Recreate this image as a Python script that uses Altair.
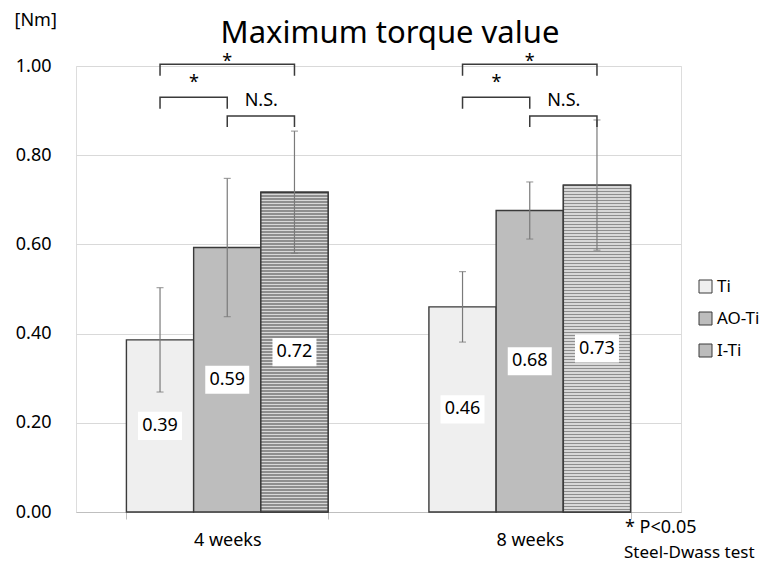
import altair as alt
import pandas as pd

# ---- data ----
weeks = ["4 weeks", "8 weeks"]
groups = ["Ti", "AO-Ti", "I-Ti"]
means_4w = [0.386, 0.593, 0.717]
means_8w = [0.460, 0.676, 0.733]
sd_4w = [0.117, 0.155, 0.137]
sd_8w = [0.079, 0.064, 0.146]

# significance brackets
bracket_from = ["Ti", "Ti", "AO-Ti"]
bracket_to = ["I-Ti", "AO-Ti", "I-Ti"]
bracket_level = [1.004, 0.930, 0.888]
bracket_drop = [0.978, 0.904, 0.863]
bracket_text = ["*", "*", "N.S."]
bracket_text_level = [1.009, 0.962, 0.922]

# ---- tables ----
rows = []
for w, ms, sds in [(weeks[0], means_4w, sd_4w), (weeks[1], means_8w, sd_8w)]:
    for g, m, s in zip(groups, ms, sds):
        rows.append({"week": w, "group": g, "value": m, "lo": m - s, "hi": m + s, "mid": m / 2})
df = pd.DataFrame(rows)

brows = []
trows = []
for w in weeks:
    for i in range(len(bracket_from)):
        pts = [(bracket_from[i], bracket_drop[i]), (bracket_from[i], bracket_level[i]),
               (bracket_to[i], bracket_level[i]), (bracket_to[i], bracket_drop[i])]
        for k, (g, yv) in enumerate(pts):
            brows.append({"week": w, "pos": g, "y": yv, "bid": f"{w}-{i}", "k": k})
    trows.append({"week": w, "pos": "AO-Ti", "y": bracket_text_level[0], "t": bracket_text[0], "shift": "no"})
    trows.append({"week": w, "pos": "Ti", "y": bracket_text_level[1], "t": bracket_text[1], "shift": "yes"})
    trows.append({"week": w, "pos": "AO-Ti", "y": bracket_text_level[2], "t": bracket_text[2], "shift": "yes"})
bdf = pd.DataFrame(brows)
tdf = pd.DataFrame(trows)

FONT = "Noto Sans"
fills = ["#efefef", "#bdbdbd", "#bcbcbc"]
PLOT_H = 446


def stripe_gradient(bar_value, period=3.0):
    """horizontal stripe fill, stripes every `period` px for a bar of given height"""
    h = bar_value * PLOT_H
    stops = []
    pos = 0.0
    while pos < h:
        a = pos / h
        b = min((pos + period * 0.45) / h, 1.0)
        c = min((pos + period) / h, 1.0)
        stops += [
            alt.GradientStop(offset=a, color="#8e8e8e"),
            alt.GradientStop(offset=b, color="#8e8e8e"),
            alt.GradientStop(offset=b, color="#d8d8d8"),
            alt.GradientStop(offset=c, color="#d8d8d8"),
        ]
        pos += period
    return alt.LinearGradient(gradient="linear", stops=stops, x1=0, x2=0, y1=0, y2=1)


xenc = alt.X("week:N", sort=weeks,
             scale=alt.Scale(domain=weeks, paddingInner=1 / 3, paddingOuter=1 / 6),
             axis=alt.Axis(title=None, labelAngle=0, labelFontSize=18, labelFont=FONT,
                           labelColor="#000000", labelPadding=12, tickSize=7,
                           tickColor="#bfbfbf", domainColor="#bfbfbf", tickBand="extent",
                           grid=False))
xoff = alt.XOffset("group:N", sort=groups, scale=alt.Scale(domain=groups))
yscale = alt.Scale(domain=[0, 1], nice=False)
yaxis = alt.Axis(values=[0, 0.2, 0.4, 0.6, 0.8, 1.0], format=".2f", labelFontSize=18,
                 labelFont=FONT, labelColor="#000000", labelPadding=25,
                 domain=False, ticks=False, grid=True, gridColor="#d9d9d9",
                 title="[Nm]", titleAngle=0, titleX=-62, titleY=-46,
                 titleAlign="left", titleBaseline="middle", titleFontSize=18,
                 titleFont=FONT, titleFontWeight="normal", titleColor="#000000")


def Y(field):
    return alt.Y(field, scale=yscale, axis=yaxis)


base = alt.Chart(df)

bars = base.mark_bar(stroke="#3a3a3a", strokeWidth=1.4).encode(
    x=xenc,
    xOffset=xoff,
    y=Y("value:Q"),
    color=alt.Color("group:N", sort=groups,
                    scale=alt.Scale(domain=groups, range=fills),
                    legend=alt.Legend(title=None, orient="none", legendX=621, legendY=212,
                                      symbolType="square", symbolSize=169,
                                      symbolStrokeColor="#3a3a3a", symbolStrokeWidth=1,
                                      labelFontSize=17, labelFont=FONT, labelColor="#000000",
                                      labelOffset=3, rowPadding=14, padding=0)),
)

stripe_layers = []
for w, ms in [(weeks[0], means_4w), (weeks[1], means_8w)]:
    v = ms[groups.index("I-Ti")]
    stripe_layers.append(
        base.transform_filter((alt.datum.group == "I-Ti") & (alt.datum.week == w)).mark_bar(
            fill=stripe_gradient(v), stroke="#3a3a3a", strokeWidth=1.4
        ).encode(x=xenc, xOffset=xoff, y=Y("value:Q"))
    )

err = base.mark_rule(color="#7a7a7a", strokeWidth=1.2).encode(
    x=xenc, xOffset=xoff, y=Y("lo:Q"), y2="hi:Q")
cap_lo = base.mark_tick(color="#7a7a7a", thickness=1.2, size=7, orient="horizontal").encode(
    x=xenc, xOffset=xoff, y=Y("lo:Q"))
cap_hi = base.mark_tick(color="#7a7a7a", thickness=1.2, size=7, orient="horizontal").encode(
    x=xenc, xOffset=xoff, y=Y("hi:Q"))

box = base.mark_point(shape="M-1,-0.64L1,-0.64L1,0.64L-1,0.64Z", size=1936, filled=True,
                      fill="#ffffff", opacity=1, strokeWidth=0).encode(
    x=xenc, xOffset=xoff, y=Y("mid:Q"))
lab = base.mark_text(fontSize=18, font=FONT, color="#000000", baseline="middle").encode(
    x=xenc, xOffset=xoff, y=Y("mid:Q"),
    text=alt.Text("value:Q", format=".2f"))

brk = alt.Chart(bdf).mark_line(color="#3a3a3a", strokeWidth=1.5).encode(
    x=alt.X("week:N", sort=weeks), xOffset=alt.XOffset("pos:N", sort=groups),
    y=Y("y:Q"), detail="bid:N", order="k:O")

btxt0 = alt.Chart(tdf).transform_filter(alt.datum.shift == "no").mark_text(
    fontSize=18, font=FONT, color="#000000", baseline="middle").encode(
    x=alt.X("week:N", sort=weeks), xOffset=alt.XOffset("pos:N", sort=groups),
    y=Y("y:Q"), text="t:N")
btxt1 = alt.Chart(tdf).transform_filter(alt.datum.shift == "yes").mark_text(
    fontSize=18, font=FONT, color="#000000", baseline="middle", dx=34).encode(
    x=alt.X("week:N", sort=weeks), xOffset=alt.XOffset("pos:N", sort=groups),
    y=Y("y:Q"), text="t:N")

title = alt.Chart(pd.DataFrame({"t": ["Maximum torque value"]})).mark_text(
    fontSize=31, font=FONT, color="#000000", align="center", baseline="alphabetic").encode(
    x=alt.value(314), y=alt.value(-23), text="t:N")
note1 = alt.Chart(pd.DataFrame({"t": ["* P<0.05"]})).mark_text(
    fontSize=18, font=FONT, color="#000000", align="left", baseline="alphabetic").encode(
    x=alt.value(549), y=alt.value(467), text="t:N")
note2 = alt.Chart(pd.DataFrame({"t": ["Steel-Dwass test"]})).mark_text(
    fontSize=17, font=FONT, color="#000000", align="left", baseline="alphabetic").encode(
    x=alt.value(548), y=alt.value(492), text="t:N")

chart = alt.layer(bars, *stripe_layers, err, cap_lo, cap_hi, box, lab, brk, btxt0, btxt1,
                  title, note1, note2).properties(
    width=605, height=446,
    autosize=alt.AutoSizeParams(type="none"),
    padding={"left": 68, "top": 58, "right": 81, "bottom": 52},
).configure_view(strokeWidth=0, stroke="transparent").configure(background="#ffffff")

chart.save("out.html", embed_options={"renderer": "svg", "actions": False})
